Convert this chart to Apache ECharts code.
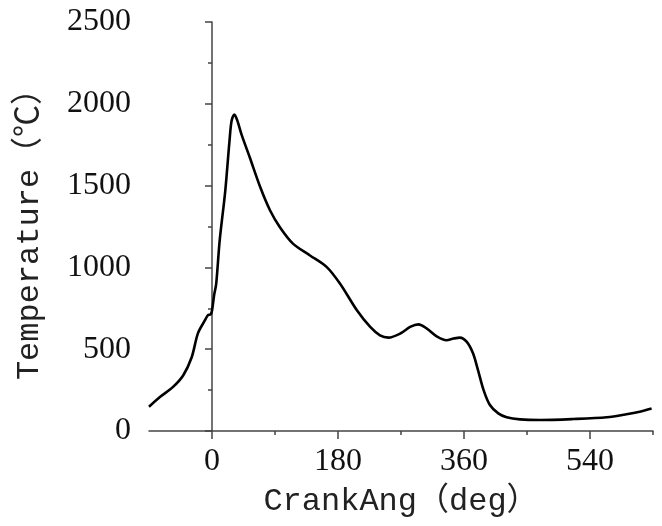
<!DOCTYPE html>
<html>
<head>
<meta charset="utf-8">
<script src="https://cdn.jsdelivr.net/npm/echarts@6/dist/echarts.min.js"></script>
<style>
 html, body { margin: 0; padding: 0; background: #fff; }
 #chart { width: 662px; height: 526px; }
</style>
</head>
<body>
<div id="chart"></div>
<script>
 var crankAng = [-90, -74, -56, -41, -29, -20, -10, -6, -2, 0, 3, 6, 11, 19, 25, 28, 32, 36, 42, 54, 69, 83, 97, 116, 140, 164, 183, 207, 226, 240, 252, 269, 283, 295, 307, 321, 335, 345, 354, 364, 373, 380, 388, 397, 409, 421, 440, 469, 516, 564, 592, 611, 628];
 var temperature = [148, 209, 268, 341, 451, 598, 677, 707, 713, 735, 830, 900, 1165, 1470, 1774, 1896, 1935, 1900, 1815, 1672, 1490, 1348, 1246, 1144, 1073, 1002, 900, 738, 636, 585, 571, 596, 636, 652, 626, 579, 555, 565, 571, 545, 474, 372, 250, 159, 108, 84, 71, 67, 73, 84, 102, 118, 138];
 var majorTicks = [0, 180, 360, 540];
 var minorTicks = [90, 270, 450, 630];

 var pts = [];
 for (var i = 0; i < crankAng.length; i++) {
  pts.push([crankAng[i], temperature[i]]);
 }

 var axisColor = '#444';
 var nameFont = '"Liberation Mono", "Noto Sans CJK SC", monospace';
 var myChart = echarts.init(document.getElementById('chart'));
 var option = {
  animation: false,
  grid: { left: 149, right: 9, top: 22, bottom: 95, containLabel: false, outerBoundsMode: 'none' },
  xAxis: [{
   type: 'value',
   min: -90,
   max: 630,
   name: 'CrankAng（deg）',
   nameLocation: 'middle',
   nameGap: 55,
   nameTextStyle: { fontFamily: nameFont, fontSize: 32, color: '#222' },
   axisLine: { show: true, lineStyle: { color: axisColor, width: 1.5 } },
   axisTick: { show: true, customValues: majorTicks, length: 8, lineStyle: { color: axisColor, width: 1.5 } },
   axisLabel: { customValues: majorTicks, margin: 15, fontFamily: 'Liberation Serif', fontSize: 32, color: '#111',
    formatter: function(v) { return String(v); } },
   splitLine: { show: false }
  }, {
   type: 'value',
   min: -90,
   max: 630,
   position: 'bottom',
   axisLine: { show: false },
   axisTick: { show: true, customValues: minorTicks, length: 4, lineStyle: { color: axisColor, width: 1.5 } },
   axisLabel: { show: false },
   splitLine: { show: false }
  }],
  yAxis: {
   type: 'value',
   min: 0,
   max: 2500,
   interval: 500,
   name: 'Temperature（℃）',
   nameLocation: 'middle',
   nameGap: 103,
   nameTextStyle: { fontFamily: nameFont, fontSize: 32, color: '#222' },
   axisLine: { show: true, lineStyle: { color: axisColor, width: 1.5 } },
   axisTick: { show: true, length: 7, lineStyle: { color: axisColor, width: 1.5 } },
   minorTick: { show: true, splitNumber: 2, length: 4, lineStyle: { color: axisColor, width: 1.5 } },
   axisLabel: { margin: 18, fontFamily: 'Liberation Serif', fontSize: 32, color: '#111',
    formatter: function(v) { return String(v); } },
   splitLine: { show: false }
  },
  series: [{
   type: 'line',
   data: pts,
   smooth: 0.3,
   showSymbol: false,
   lineStyle: { color: '#000', width: 2.6 }
  }]
 };
 myChart.setOption(option);
</script>
</body>
</html>
